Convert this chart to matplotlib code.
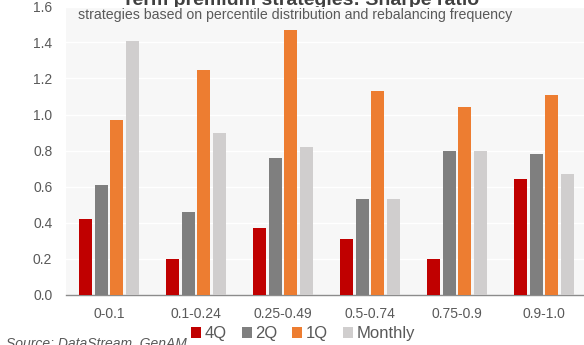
import numpy as np
import matplotlib
matplotlib.use("Agg")
import matplotlib.pyplot as plt

plt.rcParams["font.family"] = ["Liberation Sans", "DejaVu Sans"]

# Sharpe ratios by percentile bucket and rebalancing frequency
buckets = ["0-0.1", "0.1-0.24", "0.25-0.49", "0.5-0.74", "0.75-0.9", "0.9-1.0"]
q4 = [0.42, 0.20, 0.37, 0.31, 0.20, 0.64]
q2 = [0.61, 0.46, 0.76, 0.53, 0.80, 0.78]
q1 = [0.97, 1.25, 1.47, 1.13, 1.04, 1.11]
monthly = [1.41, 0.90, 0.82, 0.53, 0.80, 0.67]
series_names = ["4Q", "2Q", "1Q", "Monthly"]
colors = ["#C00000", "#7F7F7F", "#ED7D31", "#D0CECE"]

TXT = "#595959"

fig = plt.figure(figsize=(5.84, 3.45), dpi=100)
ax = fig.add_axes([65.5 / 584, 50.5 / 345, 522 / 584, 288 / 345])
ax.set_facecolor("#F7F7F7")

x = np.arange(len(buckets))
step, width = 0.18, 0.15
for k, (vals, name, c) in enumerate(zip([q4, q2, q1, monthly], series_names, colors)):
    ax.bar(x + (k - 1.5) * step, vals, width, color=c, label=name, zorder=3)

ax.set_xlim(-0.5, len(buckets) - 0.5)
ax.set_ylim(0, 1.6)
ax.set_yticks(np.arange(0, 1.61, 0.2))
ax.set_yticklabels(["%.1f" % v for v in np.arange(0, 1.61, 0.2)])
ax.set_xticks(x)
ax.set_xticklabels(buckets)
ax.tick_params(axis="both", length=0, labelsize=10, colors=TXT)
ax.tick_params(axis="x", pad=9)
ax.tick_params(axis="y", pad=9.5)
ax.grid(axis="y", color="white", lw=1, zorder=0)
for s in ["top", "right", "left"]:
    ax.spines[s].set_visible(False)
ax.spines["bottom"].set_color("#8C8C8C")
ax.spines["bottom"].set_linewidth(1)

# title sits behind the plot area, only its lower part shows
fig.text(301 / 584, 1 - 5 / 345, "Term premium strategies: Sharpe ratio",
         ha="center", va="baseline", fontsize=14, fontweight="bold", color="#404040",
         zorder=-1)
fig.text(78 / 584, 1 - 19.3 / 345,
         "strategies based on percentile distribution and rebalancing frequency",
         ha="left", va="baseline", fontsize=10.2, color=TXT)
fig.text(6 / 584, -2.5 / 345, "Source: DataStream, GenAM", ha="left", va="baseline",
         fontsize=10, style="italic", color=TXT)

fig.legend(loc="center", bbox_to_anchor=(303 / 584, 11.5 / 345), ncol=4, frameon=False,
           fontsize=12, labelcolor=TXT, handlelength=0.6, handleheight=0.65,
           handletextpad=0.2, columnspacing=0.9, borderpad=0, borderaxespad=0)

fig.savefig("out.png", dpi=100)
